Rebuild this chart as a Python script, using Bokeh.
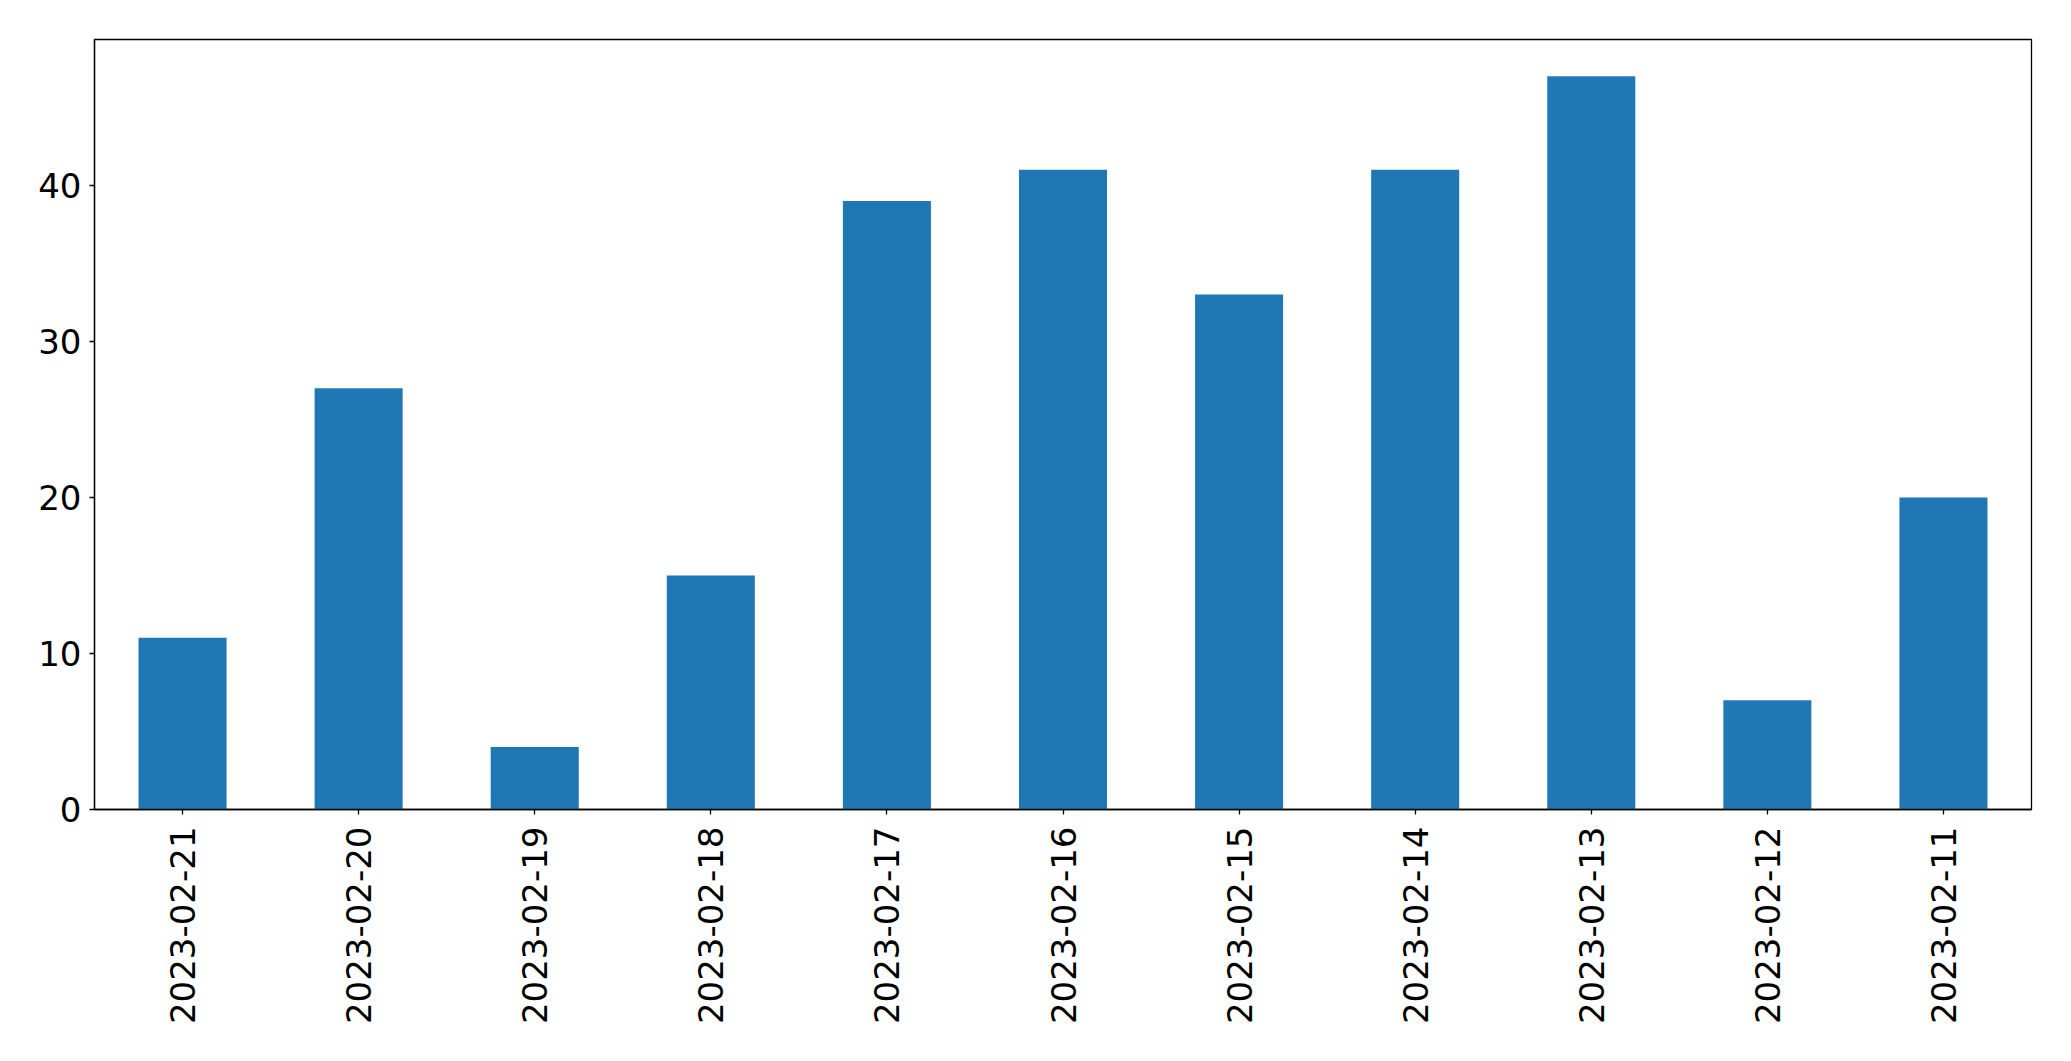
import math
from bokeh.plotting import figure
from bokeh.models import FixedTicker, Range1d, FactorRange
from bokeh.embed import file_html
from bokeh.resources import INLINE

dates = ["2023-02-21", "2023-02-20", "2023-02-19", "2023-02-18", "2023-02-17",
         "2023-02-16", "2023-02-15", "2023-02-14", "2023-02-13", "2023-02-12",
         "2023-02-11"]
counts = [11, 27, 4, 15, 39, 41, 33, 41, 47, 7, 20]
y_ticks = [0, 10, 20, 30, 40]

p = figure(x_range=FactorRange(*dates), y_range=Range1d(0, max(counts) * 1.05),
           frame_width=1937, frame_height=770,
           output_backend="svg", toolbar_location=None,
           min_border_left=94, min_border_top=39, min_border_right=22,
           min_border_bottom=230)
p.x_range.range_padding = 0

p.vbar(x=dates, top=counts, width=0.5, color="#1f77b4", line_color=None)

p.xgrid.visible = False
p.ygrid.visible = False
p.outline_line_color = "black"
p.outline_line_width = 1.3
p.outline_line_alpha = 1

for ax in (p.xaxis, p.yaxis):
    ax.axis_line_color = "black"
    ax.axis_line_width = 1.3
    ax.major_tick_line_color = "black"
    ax.major_tick_line_width = 1.3
    ax.major_tick_out = 5
    ax.major_tick_in = 0
    ax.minor_tick_line_color = None
    ax.major_label_text_font = "DejaVu Sans"
    ax.major_label_text_font_size = "34px"
    ax.major_label_text_color = "black"

p.yaxis.ticker = FixedTicker(ticks=y_ticks)
p.yaxis.major_label_standoff = 8
p.xaxis.major_label_orientation = math.pi / 2
p.xaxis.major_label_standoff = 12

open("out.html", "w").write(file_html(p, INLINE))
